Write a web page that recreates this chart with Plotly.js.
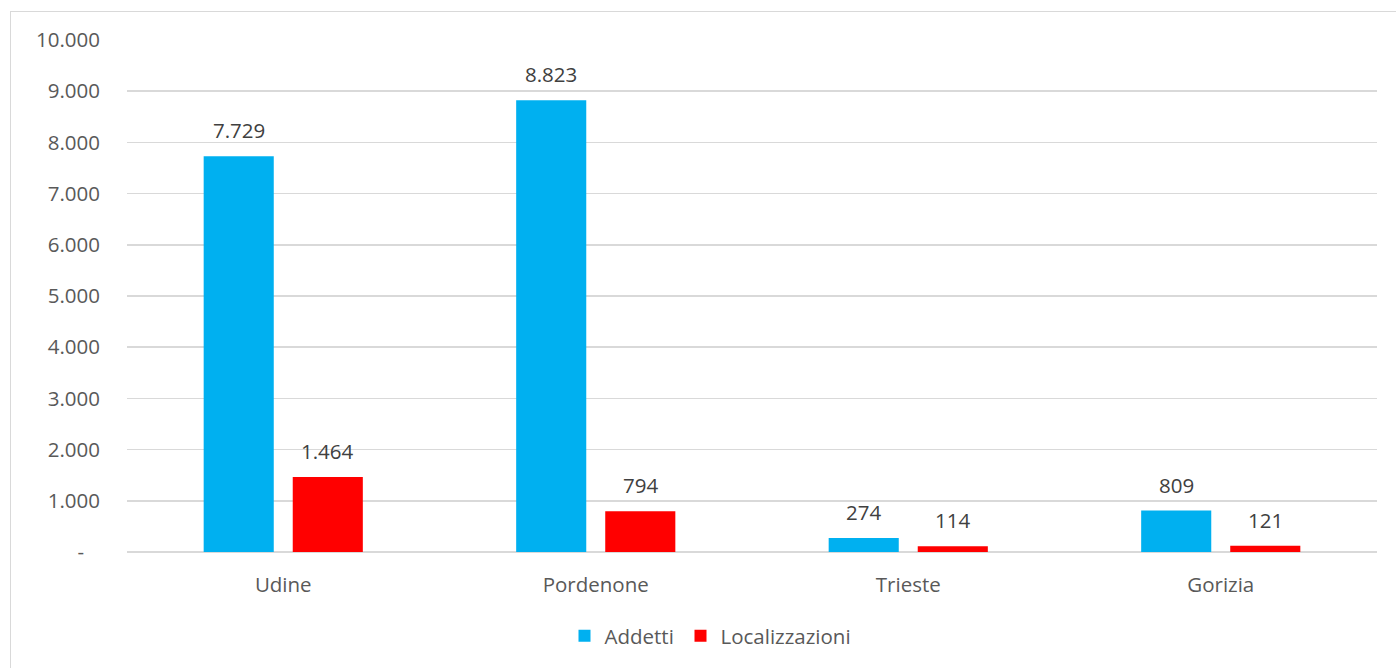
<!DOCTYPE html>
<html>
<head>
<meta charset="utf-8">
<script src="https://cdn.plot.ly/plotly-3.0.1.min.js"></script>
<style>
html,body{margin:0;padding:0;background:#fff;overflow:hidden;}
#chart{position:absolute;left:0;top:0;width:1396px;height:668px;}
#frame{position:absolute;left:10px;top:11px;width:1400px;height:700px;border:1px solid #d9d9d9;pointer-events:none;}
</style>
</head>
<body>
<div id="chart"></div>
<div id="frame"></div>
<script>
const categories = ["Udine", "Pordenone", "Trieste", "Gorizia"];
const addetti = [7729, 8823, 274, 809];
const localizzazioni = [1464, 794, 114, 121];
const yTickVals = [0, 1000, 2000, 3000, 4000, 5000, 6000, 7000, 8000, 9000, 10000];
const yTickText = ["-\u00a0\u00a0\u00a0", "1.000", "2.000", "3.000", "4.000", "5.000", "6.000", "7.000", "8.000", "9.000", "10.000"];

const FONT = "Open Sans, Noto Sans, sans-serif";
const FS = 20.5;
const series = [
  {name: "Addetti", values: addetti, color: "#00B0F0", shift: -44.5, legend: "legend"},
  {name: "Localizzazioni", values: localizzazioni, color: "#FF0000", shift: 44.5, legend: "legend2"}
];

const traces = series.map(s => ({
  type: "bar",
  name: s.name,
  x: categories,
  y: s.values,
  marker: {color: s.color},
  legend: s.legend,
  hoverinfo: "none"
}));

const annotations = [];
series.forEach(s => {
  categories.forEach((c, i) => {
    annotations.push({
      x: c, y: s.values[i], xref: "x", yref: "y",
      text: s.values[i].toLocaleString("de-DE"),
      showarrow: false, yanchor: "bottom", xshift: s.shift, yshift: 10,
      font: {family: FONT, size: FS, color: "#404040"}
    });
  });
});

const legendBase = {
  orientation: "h", xanchor: "left", y: -0.164, yanchor: "middle",
  font: {family: FONT, size: FS, color: "#595959"},
  itemclick: false, itemdoubleclick: false, bgcolor: "rgba(0,0,0,0)"
};

const layout = {
  width: 1396, height: 668,
  margin: {l: 127, r: 19, t: 40, b: 116},
  paper_bgcolor: "#fff", plot_bgcolor: "#fff",
  separators: ",.",
  barmode: "group",
  bargap: 0.43,
  bargroupgap: 0.213,
  font: {family: FONT, size: FS, color: "#595959"},
  xaxis: {
    showgrid: false, zeroline: false, showline: false,
    ticks: "", ticklabelstandoff: 18,
    tickfont: {family: FONT, size: FS, color: "#595959"}
  },
  yaxis: {
    range: [0, 10000], tickvals: yTickVals, ticktext: yTickText,
    showgrid: true, gridcolor: "#d9d9d9", gridwidth: 1.5,
    zeroline: true, zerolinecolor: "#d9d9d9", zerolinewidth: 1.5,
    showline: false, ticks: "", ticklabelstandoff: 26,
    tickfont: {family: FONT, size: FS, color: "#595959"}
  },
  legend: Object.assign({}, legendBase, {x: 0.35}),
  legend2: Object.assign({}, legendBase, {x: 0.4428}),
  annotations: annotations,
  showlegend: true
};

Plotly.newPlot("chart", traces, layout, {staticPlot: true, displayModeBar: false});
</script>
</body>
</html>
